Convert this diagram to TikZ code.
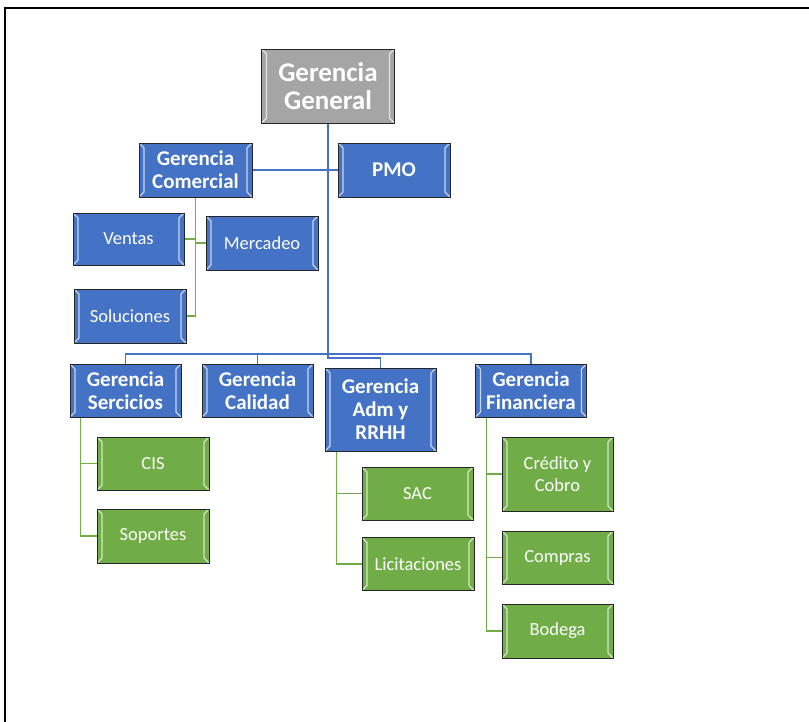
\documentclass[tikz,border=0pt]{standalone}
\usepackage{fontspec}
\setmainfont{Carlito}
\usepackage{xcolor}
\usetikzlibrary{backgrounds}
\definecolor{ggray}{HTML}{A5A5A5}
\definecolor{gblue}{HTML}{4472C4}
\definecolor{ggreen}{HTML}{70AD47}
\begin{document}
\begin{tikzpicture}[x=1pt,y=-1pt,box/.style={draw=black!85,line width=0.9pt,text=white,align=center,inner sep=0pt,minimum width=111pt,minimum height=53pt,path picture={\draw[white,opacity=.7,line width=1.3pt] (path picture bounding box.north west) -- ([shift={(5pt,-5pt)}]path picture bounding box.north west) -- ([shift={(5pt,5pt)}]path picture bounding box.south west) -- (path picture bounding box.south west);\draw[white,opacity=.7,line width=1.3pt] (path picture bounding box.north east) -- ([shift={(-5pt,-5pt)}]path picture bounding box.north east) -- ([shift={(-5pt,5pt)}]path picture bounding box.south east) -- (path picture bounding box.south east);}},top/.style={box,fill=ggray,font=\bfseries\fontsize{27}{28}\selectfont,minimum width=133pt,minimum height=74pt},mgr/.style={box,fill=gblue,font=\bfseries\fontsize{21}{23}\selectfont},sub/.style={box,fill=gblue,font=\fontsize{18.5}{21.7}\selectfont},unit/.style={box,fill=ggreen,font=\fontsize{18.5}{21.7}\selectfont},bline/.style={draw=gblue,line width=1.6pt},gline/.style={draw=ggreen,line width=1.6pt}]
\useasboundingbox (0,0) rectangle (809,722);
\draw[line width=2pt] (4.5,722) -- (4.5,8) -- (809,8);
\node[top] (gg) at (328,86) {Gerencia\\General};
\node[mgr,minimum width=113pt,minimum height=54pt] (com) at (195.5,170) {Gerencia\\Comercial};
\node[mgr,minimum width=112pt,minimum height=54pt] (pmo) at (394,170) {PMO};
\node[sub,minimum height=52pt] (ventas) at (128.5,239) {Ventas};
\node[sub,minimum width=112pt,minimum height=54pt] (merc) at (262,243) {Mercadeo};
\node[sub,minimum width=112pt,minimum height=54pt] (sol) at (130,316) {Soluciones};
\node[mgr] (ser) at (125.5,390.5) {Gerencia\\Sercicios};
\node[mgr] (cal) at (257.5,390.5) {Gerencia\\Calidad};
\node[mgr,minimum height=83pt] (adm) at (380.5,409.5) {Gerencia\\Adm y\\RRHH};
\node[mgr] (fin) at (531,390.5) {Gerencia\\Financiera};
\node[unit,minimum width=112pt] (cis) at (153,463.5) {CIS};
\node[unit,minimum width=112pt,minimum height=54pt] (sop) at (153,536) {Soportes};
\node[unit] (sac) at (417.5,493.5) {SAC};
\node[unit,minimum width=112pt] (lic) at (418,564) {Licitaciones};
\node[unit,minimum height=74pt] (cred) at (557.5,474) {Crédito y\\Cobro};
\node[unit] (compras) at (557.5,557.5) {Compras};
\node[unit,minimum height=54pt] (bodega) at (557.5,631) {Bodega};
\coordinate (bus) at (328,354);
\begin{scope}[on background layer]
\draw[bline] (gg.south) -- (bus);
\draw[bline] (com.east) -- (pmo.west);
\draw[bline] (bus) -| (ser.north);
\draw[bline] (bus) -| (cal.north);
\draw[bline] (bus) -| (fin.north);
\draw[bline] (bus) -- ++(0,4) -| (adm.north);
\draw[gline] (com.south) |- (sol.east);
\draw[gline] (ventas.east) -| (com.south);
\draw[gline] (merc.west) -| (com.south);
\draw[gline] ([xshift=11pt]ser.south west) |- (cis.west);
\draw[gline] ([xshift=11pt]ser.south west) |- (sop.west);
\draw[gline] ([xshift=12pt]adm.south west) |- (sac.west);
\draw[gline] ([xshift=12pt]adm.south west) |- (lic.west);
\draw[gline] ([xshift=11.5pt]fin.south west) |- (cred.west);
\draw[gline] ([xshift=11.5pt]fin.south west) |- (compras.west);
\draw[gline] ([xshift=11.5pt]fin.south west) |- (bodega.west);
\end{scope}
\end{tikzpicture}
\end{document}
